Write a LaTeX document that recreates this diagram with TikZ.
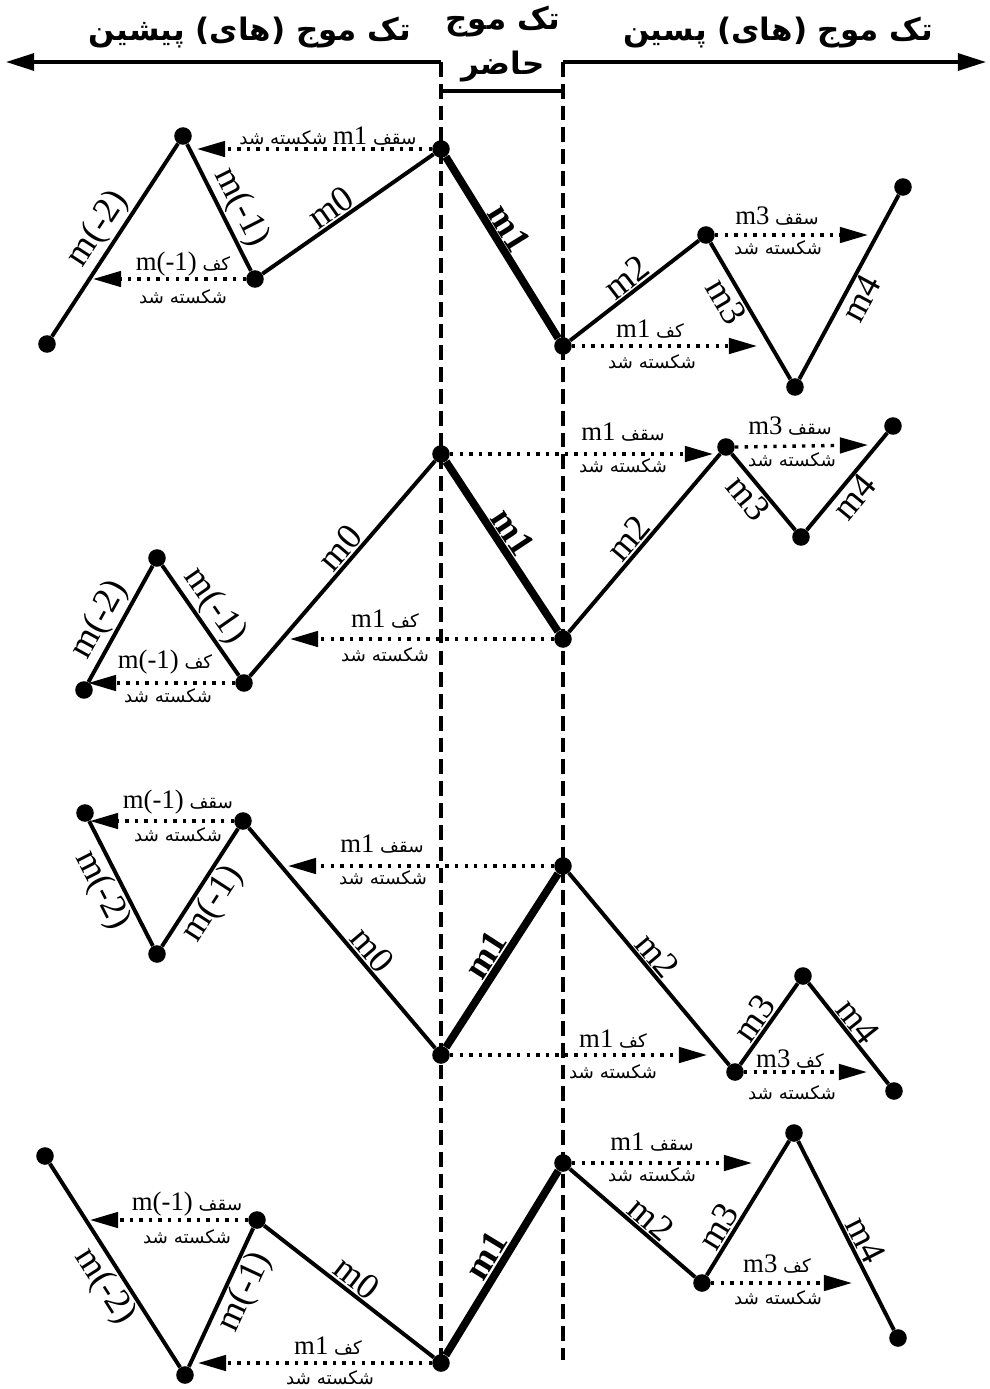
\documentclass[tikz,border=0pt]{standalone}
\usepackage{fontspec}
\setmainfont{Liberation Serif}
\newfontfamily\fa[Script=Arabic]{DejaVu Sans}
\TeXXeTstate=1
\usetikzlibrary{arrows.meta}
\newcommand\mtxt[1]{\beginL{\rmfamily\fontsize{19}{22}\selectfont #1}\endL}
\newcommand\fal[1]{{\fa\beginR #1\endR}}
\newcommand\shd{\fal{شکسته شد}}

\begin{document}
\begin{tikzpicture}[x=0.025cm,y=-0.025cm,
pnt/.style={circle,fill=black,inner sep=0pt,minimum size=12.5pt},
seg/.style={line width=2.8pt},
mseg/.style={line width=5.5pt},
lab/.style={font=\fontsize{26}{28}\selectfont,sloped,inner sep=1pt},
mlab/.style={lab,font=\bfseries\fontsize{26}{28}\selectfont},
brk/.style={line width=2.4pt,dash pattern=on 2.4pt off 4.4pt,-{Triangle[length=20pt,width=11pt]}},
fatxt/.style={font=\fa\fontsize{13}{15}\selectfont,inner sep=0pt},
hdr/.style={font=\fa\bfseries\fontsize{22}{26}\selectfont,inner sep=0pt},
tarr/.style={line width=2.5pt,-{Triangle[length=20pt,width=12pt]}},
vdash/.style={line width=2.4pt,dash pattern=on 10.5pt off 5pt}]
\useasboundingbox (0,0) rectangle (990,1389);
% header
\coordinate (tl) at (441,62);\coordinate (tr) at (563,62);
\coordinate (el) at (6,62);\coordinate (er) at (986,62);
\coordinate (bl) at (441,91);\coordinate (br) at (563,91);
\coordinate (vl) at (441,1360);\coordinate (vr) at (563,1360);
\draw[tarr] (tl)--(el);\draw[tarr] (tr)--(er);
\draw[line width=2.5pt] (bl)--(br);
\draw[vdash] (tl)--(vl);\draw[vdash] (tr)--(vr);
\node[hdr] (hleft) at (250,33) {\fal{تک موج (های) پیشین}};
\node[hdr] (hmid) at (503,22) {\fal{تک موج}};
\node[hdr] (hnow) at (503,67) {\fal{حاضر}};
\node[hdr] (hright) at (778,33) {\fal{تک موج (های) پسین}};
% panel 1
\node[pnt] (a1) at (47,344) {};\node[pnt] (b1) at (183,136) {};\node[pnt] (c1) at (255,279) {};\node[pnt] (d1) at (441,149) {};
\node[pnt] (e1) at (563,346) {};\node[pnt] (f1) at (706,235) {};\node[pnt] (g1) at (795,387) {};\node[pnt] (h1) at (903,187) {};
\draw[seg] (a1)--node[lab,above,pos=.5]{m(-2)}(b1)--node[lab,above,pos=.57]{m(-1)}(c1)--node[lab,above,pos=.45]{m0}(d1);
\draw[mseg] (d1)--node[mlab,above,pos=.44]{m1}(e1);
\draw[seg] (e1)--node[lab,above,pos=.51]{m2}(f1)--node[lab,below,pos=.37]{m3}(g1)--node[lab,below,pos=.48]{m4}(h1);
\coordinate (q1a) at (197,149);\coordinate (q1b) at (93,279);\coordinate (q1c) at (757,346);\coordinate (q1d) at (868,235);
\draw[brk] (d1)--(q1a);\draw[brk] (c1)--(q1b);\draw[brk] (e1)--(q1c);\draw[brk] (f1)--(q1d);
\node[fatxt] (s1a) at (328,136) {\fal{سقف \mtxt{m1} شکسته شد}};
\node[fatxt] (s1b) at (183,264) {\fal{کف \mtxt{m(-1)}}};\node[fatxt] (s1c) at (183,297) {\shd};
\node[fatxt] (s1d) at (650,329) {\fal{کف \mtxt{m1}}};\node[fatxt] (s1e) at (652,362) {\shd};
\node[fatxt] (s1f) at (777,216) {\fal{سقف \mtxt{m3}}};\node[fatxt] (s1g) at (778,248) {\shd};
% panel 2
\node[pnt] (a2) at (84,690) {};\node[pnt] (b2) at (157,558) {};\node[pnt] (c2) at (244,683) {};\node[pnt] (d2) at (441,454) {};
\node[pnt] (e2) at (563,639) {};\node[pnt] (f2) at (726,447) {};\node[pnt] (g2) at (801,537) {};\node[pnt] (h2) at (893,426) {};
\draw[seg] (a2)--node[lab,above,pos=.45]{m(-2)}(b2)--node[lab,above,pos=.47]{m(-1)}(c2)--node[lab,above,pos=.55]{m0}(d2);
\draw[mseg] (d2)--node[mlab,above,pos=.47]{m1}(e2);
\draw[seg] (e2)--node[lab,above,pos=.47]{m2}(f2)--node[lab,below,pos=.45]{m3}(g2)--node[lab,below,pos=.44]{m4}(h2);
\coordinate (q2a) at (713,454);\coordinate (q2b) at (868,445);\coordinate (q2c) at (290,639);\coordinate (q2d) at (88,683);
\draw[brk] (d2)--(q2a);\draw[brk] (f2.east)--(q2b);\draw[brk] (e2)--(q2c);\draw[brk] (c2)--(q2d);
\node[fatxt] (s2a) at (623,432) {\fal{سقف \mtxt{m1}}};\node[fatxt] (s2b) at (623,466) {\shd};
\node[fatxt] (s2c) at (790,426) {\fal{سقف \mtxt{m3}}};\node[fatxt] (s2d) at (792,460) {\shd};
\node[fatxt] (s2e) at (385,619) {\fal{کف \mtxt{m1}}};\node[fatxt] (s2f) at (385,655) {\shd};
\node[fatxt] (s2g) at (165,662) {\fal{کف \mtxt{m(-1)}}};\node[fatxt] (s2h) at (168,696) {\shd};
% panel 3
\node[pnt] (a3) at (85,813) {};\node[pnt] (b3) at (157,954) {};\node[pnt] (c3) at (243,821) {};\node[pnt] (d3) at (441,1055) {};
\node[pnt] (e3) at (563,866) {};\node[pnt] (f3) at (735,1072) {};\node[pnt] (g3) at (803,976) {};\node[pnt] (h3) at (894,1091) {};
\draw[seg] (a3)--node[lab,below,pos=.48]{m(-2)}(b3)--node[lab,below,pos=.45]{m(-1)}(c3)--node[lab,above,pos=.6]{m0}(d3);
\draw[mseg] (d3)--node[mlab,above,pos=.48]{m1}(e3);
\draw[seg] (e3)--node[lab,above,pos=.48]{m2}(f3)--node[lab,above,pos=.46]{m3}(g3)--node[lab,above,pos=.47]{m4}(h3);
\coordinate (q3a) at (90,821);\coordinate (q3b) at (288,866);\coordinate (q3c) at (707,1055);\coordinate (q3d) at (867,1072);
\draw[brk] (c3)--(q3a);\draw[brk] (e3)--(q3b);\draw[brk] (d3)--(q3c);\draw[brk] (f3)--(q3d);
\node[fatxt] (s3a) at (178,802) {\fal{سقف \mtxt{m(-1)}}};\node[fatxt] (s3b) at (178,835) {\shd};
\node[fatxt] (s3c) at (382,844) {\fal{سقف \mtxt{m1}}};\node[fatxt] (s3d) at (383,878) {\shd};
\node[fatxt] (s3e) at (613,1039) {\fal{کف \mtxt{m1}}};\node[fatxt] (s3f) at (613,1072) {\shd};
\node[fatxt] (s3g) at (790,1059) {\fal{کف \mtxt{m3}}};\node[fatxt] (s3h) at (792,1093) {\shd};
% panel 4
\node[pnt] (a4) at (45,1156) {};\node[pnt] (b4) at (185,1375) {};\node[pnt] (c4) at (257,1220) {};\node[pnt] (d4) at (441,1363) {};
\node[pnt] (e4) at (563,1163) {};\node[pnt] (f4) at (702,1283) {};\node[pnt] (g4) at (794,1133) {};\node[pnt] (h4) at (898,1338) {};
\draw[seg] (a4)--node[lab,below,pos=.55]{m(-2)}(b4)--node[lab,below,pos=.6]{m(-1)}(c4)--node[lab,above,pos=.49]{m0}(d4);
\draw[mseg] (d4)--node[mlab,above,pos=.49]{m1}(e4);
\draw[seg] (e4)--node[lab,above,pos=.57]{m2}(f4)--node[lab,above,pos=.3]{m3}(g4)--node[lab,above,pos=.56]{m4}(h4);
\coordinate (q4a) at (752,1163);\coordinate (q4b) at (852,1283);\coordinate (q4c) at (90,1220);\coordinate (q4d) at (198,1363);
\draw[brk] (e4)--(q4a);\draw[brk] (f4)--(q4b);\draw[brk] (c4)--(q4c);\draw[brk] (d4)--(q4d);
\node[fatxt] (s4a) at (652,1142) {\fal{سقف \mtxt{m1}}};\node[fatxt] (s4b) at (652,1175) {\shd};
\node[fatxt] (s4c) at (777,1264) {\fal{کف \mtxt{m3}}};\node[fatxt] (s4d) at (778,1298) {\shd};
\node[fatxt] (s4e) at (187,1204) {\fal{سقف \mtxt{m(-1)}}};\node[fatxt] (s4f) at (187,1237) {\shd};
\node[fatxt] (s4g) at (328,1346) {\fal{کف \mtxt{m1}}};\node[fatxt] (s4h) at (330,1378) {\shd};
\end{tikzpicture}
\end{document}
